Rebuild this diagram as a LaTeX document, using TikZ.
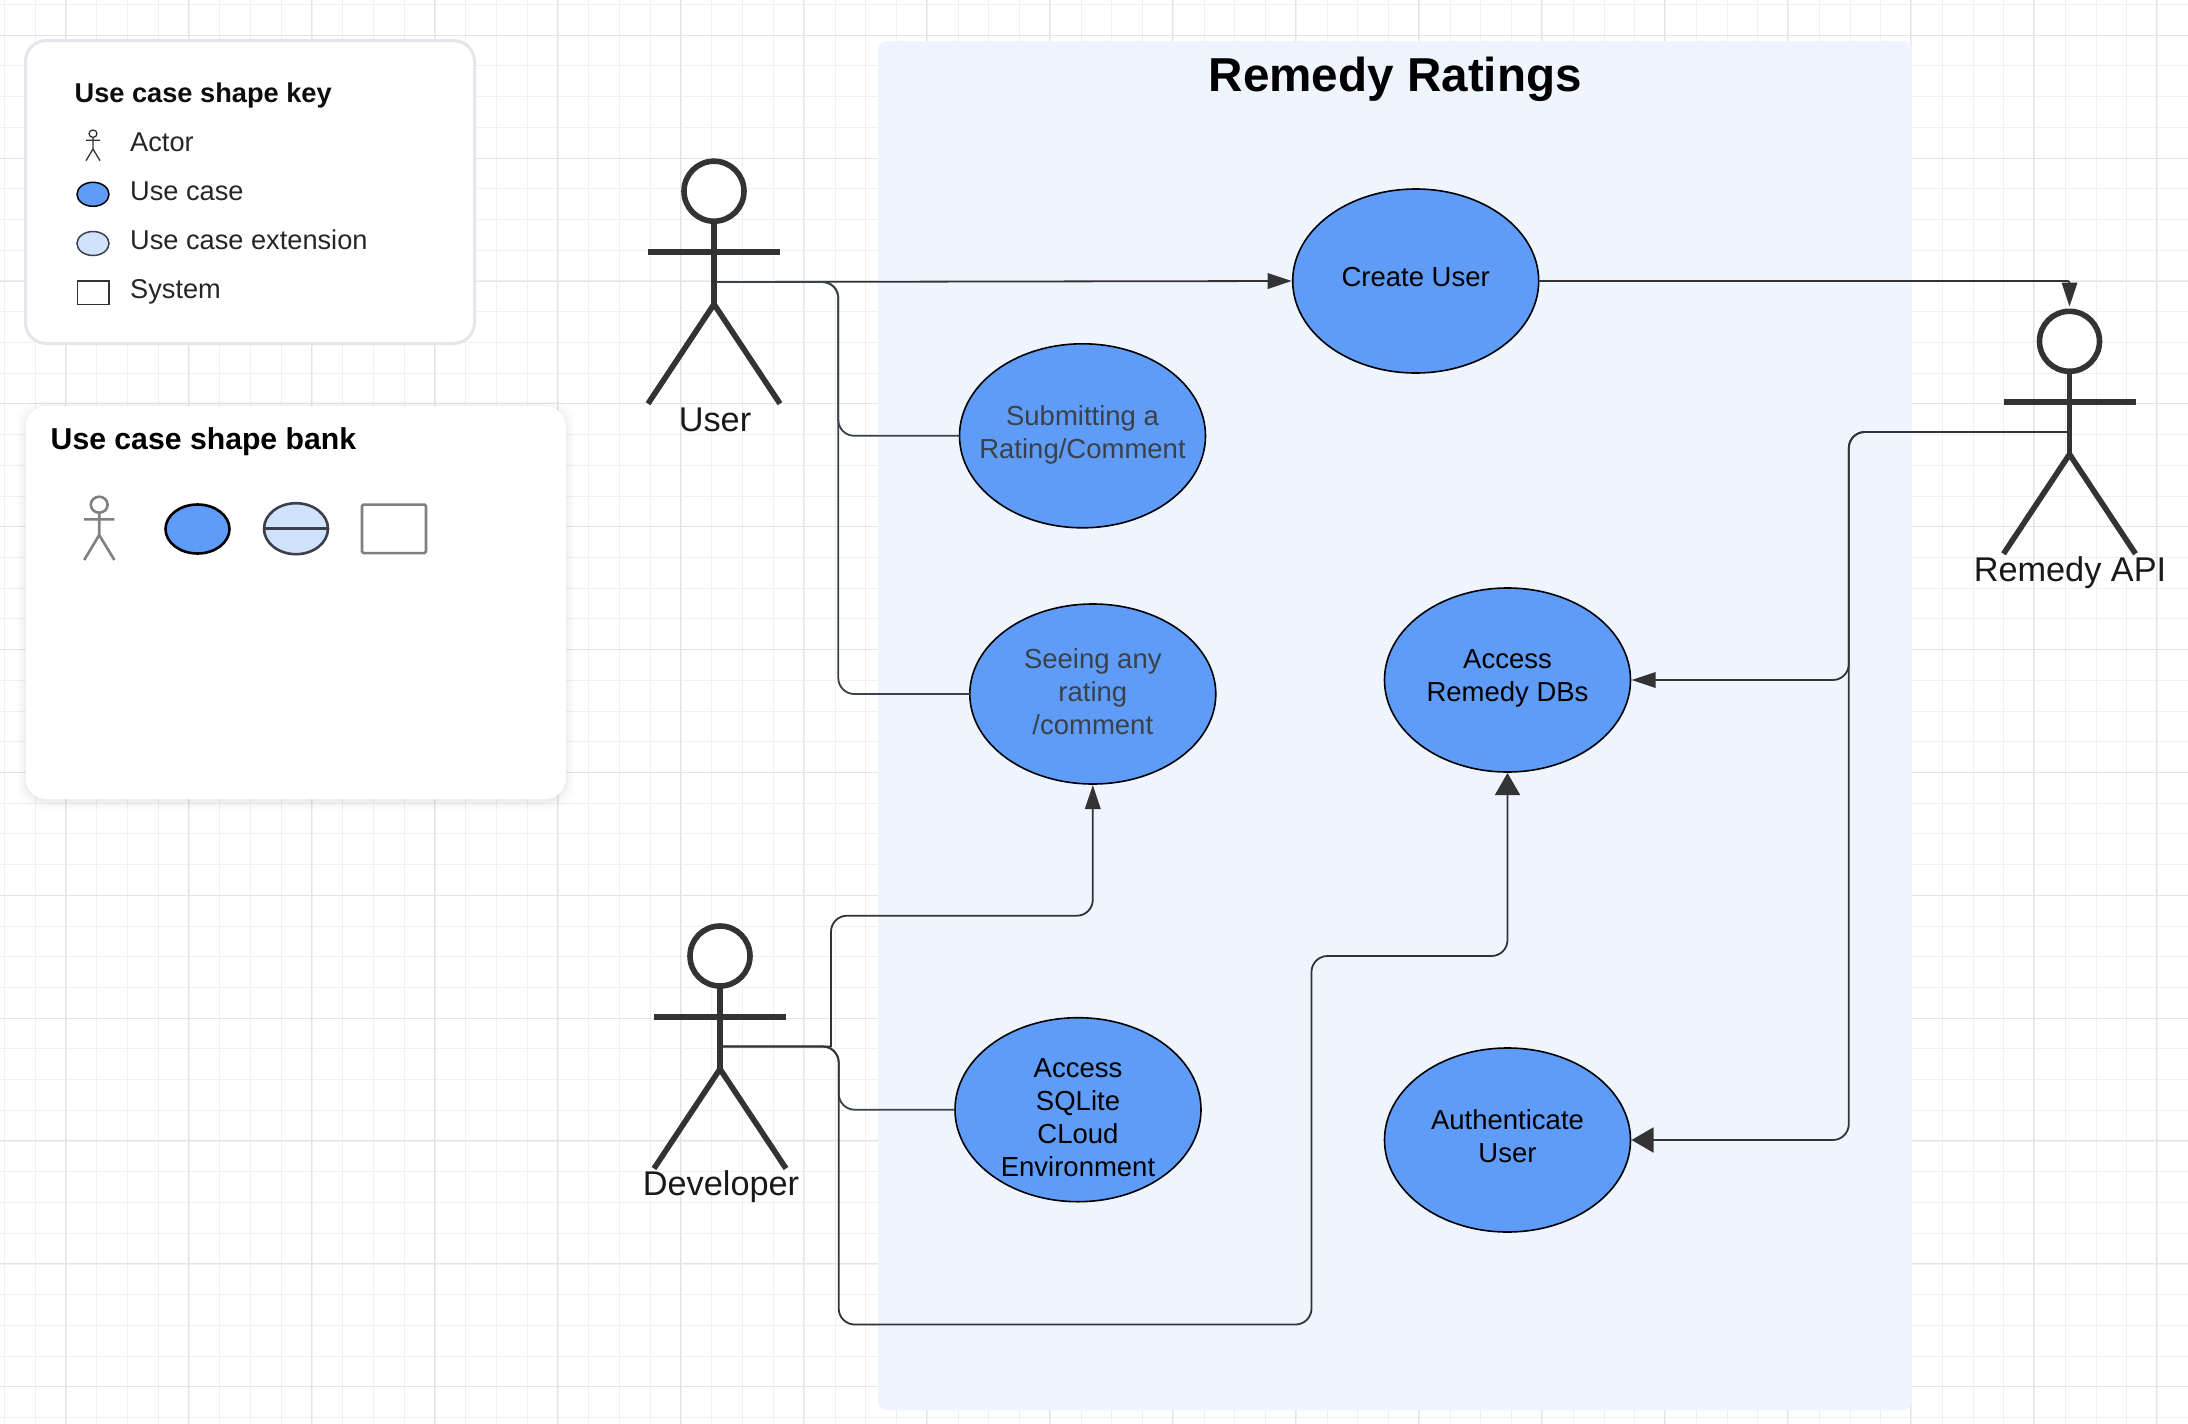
\documentclass[tikz,border=0pt]{standalone}
\usepackage{fontspec}
\setmainfont{Liberation Sans}
\usetikzlibrary{arrows.meta,shapes.geometric}
\definecolor{ucblue}{HTML}{5E9CF7}
\definecolor{ucext}{HTML}{D1E3FC}
\definecolor{sysbg}{HTML}{EEF5FF}
\definecolor{ink}{HTML}{333333}
\definecolor{slate}{HTML}{3A414A}
\definecolor{gridminor}{HTML}{F0F0F0}
\definecolor{gridmajor}{HTML}{E4E4E4}
\definecolor{panelborder}{HTML}{E3E6EB}
\newcommand{\fs}[1]{\fontsize{#1}{#1}\selectfont}
% text block of zero size, so that the ellipse keeps its own size; #1 = upward shift
\newcommand{\uctext}[2]{\raisebox{#1}[0pt][0pt]{\makebox[0pt]{\fontsize{27.5pt}{33pt}\selectfont\begin{tabular}[c]{@{}c@{}}#2\end{tabular}}}}
\tikzset{
  ucnode/.style={ellipse,draw=black,line width=1.6pt,fill=ucblue,inner sep=0pt,outer sep=0pt,minimum width=246pt,minimum height=184pt},
  keyicon/.style={inner sep=0pt,outer sep=0pt,line width=1.5pt},
  conn/.style={draw=slate,line width=1.8pt,rounded corners=16pt},
  tip/.style={-{Triangle[length=24pt,width=15.5pt]},draw=slate,color=ink,shorten >=1pt},
  bigtip/.style={-{Triangle[length=22pt,width=25pt]},draw=slate,color=ink,shorten >=1pt},
  keytext/.style={anchor=base west,inner sep=0pt,text=black!85,font=\fs{27.2pt}},
  actlabel/.style={anchor=base,inner sep=0pt,text=black!90,font=\fs{34.3pt}},
  bigactor/.pic={
    \draw[ink,line width=5.6pt,fill=white] (0,0) ellipse [x radius=30pt,y radius=30pt];
    \draw[ink,line width=5.6pt] (0,30) -- (0,113);
    \draw[ink,line width=6.2pt] (-66,60.7) -- (66,60.7);
    \draw[ink,line width=5.6pt,miter limit=3] (-66,212.5) -- (0,113) -- (66,212.5);
  },
  panel/.style={anchor=north west,inner sep=0pt,outer sep=0pt,rounded corners=21pt,fill=white}
}
\begin{document}
\begin{tikzpicture}[x=1pt,y=-1pt]
\useasboundingbox (0,0) rectangle (2188,1424);
\fill[white] (0,0) rectangle (2188,1424);
% grid, lines on whole pixels so that all look alike
\foreach \i in {0,...,71}{
  \pgfmathsetmacro{\gx}{floor(4.5+30.76*\i)+0.5}
  \draw[gridminor,line width=1.1pt] (\gx,0) -- (\gx,1424);
}
\foreach \i in {0,...,46}{
  \pgfmathsetmacro{\gy}{floor(1424-(4.5+30.72*\i))+0.5}
  \draw[gridminor,line width=1.1pt] (0,1424-\gy) -- (2188,1424-\gy);
}
\foreach \i in {0,...,17}{
  \pgfmathsetmacro{\gx}{floor(65+123.05*\i)+0.5}
  \draw[gridmajor,line width=1.1pt] (\gx,0) -- (\gx,1424);
}
\foreach \i in {0,...,11}{
  \pgfmathsetmacro{\gy}{floor(1424-(35.3+122.85*\i))+0.5}
  \draw[gridmajor,line width=1.1pt] (0,1424-\gy) -- (2188,1424-\gy);
}
% system
\node[anchor=north west,inner sep=0pt,outer sep=0pt,rounded corners=9pt,fill=sysbg,minimum width=1034pt,minimum height=1369pt] (system) at (878,41) {};
\node[anchor=base,inner sep=0pt,font=\bfseries\fs{47.6pt},text=black] (systitle) at (1395.3,91) {Remedy Ratings};
% key panel
\node[panel,draw=panelborder,line width=3pt,minimum width=449pt,minimum height=303pt] (keypanel) at (25.5,40.5) {};
\node[anchor=base west,inner sep=0pt,font=\bfseries\fs{27.2pt},text=black!95] (keytitle) at (74.5,102.3) {Use case shape key};
\draw[ink,line width=1.3pt,fill=white] (93,133.7) ellipse [x radius=4pt,y radius=3.7pt];
\draw[ink,line width=1.3pt] (93,137.4) -- (93,149) (86,140.3) -- (100,140.3) (86,160.7) -- (93,149) -- (100,160.7);
\node[keytext] (kactor) at (130,151.3) {Actor};
\node[keyicon,ellipse,draw=black,fill=ucblue,minimum width=32pt,minimum height=24pt] (kuc) at (93,194.3) {};
\node[keytext] (kuctext) at (130,200.3) {Use case};
\node[keyicon,ellipse,draw=slate,fill=ucext,minimum width=32pt,minimum height=24pt] (kext) at (93,243.5) {};
\node[keytext] (kexttext) at (130,249.3) {Use case extension};
\node[keyicon,rectangle,draw=ink,fill=white,minimum width=31.5pt,minimum height=23.5pt] (ksys) at (93.2,292.5) {};
\node[keytext] (ksystext) at (130,298.7) {System};
% bank panel
\foreach \g/\o in {9/.008,7/.01,5/.012,3/.016,1.5/.02}{
  \fill[black,opacity=\o,rounded corners=24pt] (25.6-\g,406-\g+2) rectangle (566+\g,799+\g+2);
}
\node[panel,minimum width=540.4pt,minimum height=393pt] (bankpanel) at (25.6,406) {};
\node[anchor=base west,inner sep=0pt,font=\bfseries\fs{30.2pt},text=black] (banktitle) at (50.5,449) {Use case shape bank};
\draw[black!50,line width=2.6pt,fill=white] (99.2,504.7) ellipse [x radius=8.4pt,y radius=8pt];
\draw[black!50,line width=2.6pt] (99.2,512.7) -- (99.2,535) (84,519.3) -- (114.4,519.3) (84.2,560) -- (99.2,535) -- (114.4,560);
\node[keyicon,ellipse,draw=black,line width=2.6pt,fill=ucblue,minimum width=64pt,minimum height=49pt] (buc) at (197.5,529) {};
\node[keyicon,ellipse,draw=slate,line width=2.6pt,fill=ucext,minimum width=64pt,minimum height=51pt] (bext) at (296,528.7) {};
\draw[slate,line width=2.6pt] (bext.west) -- (bext.east);
\node[keyicon,rectangle,draw=black!50,line width=2.6pt,fill=white,rounded corners=1.5pt,minimum width=64pt,minimum height=48.5pt] (bsys) at (394,528.8) {};
% use cases
\node[ucnode] (create) at (1415.7,281) {\uctext{-5pt}{Create User}};
\node[ucnode] (submit) at (1082.5,435.8) {\color{slate}\uctext{-5.5pt}{Submitting a\\Rating/Comment}};
\node[ucnode,minimum height=180pt] (seeing) at (1092.8,694) {\color{slate}\uctext{-6.7pt}{Seeing any\\rating\\/comment}};
\node[ucnode] (dbs) at (1507.5,680) {\uctext{-5pt}{Access\\Remedy DBs}};
\node[ucnode] (sqlite) at (1078,1109.7) {\uctext{-16.6pt}{Access\\SQLite\\CLoud\\Environment}};
\node[ucnode] (auth) at (1507.5,1140) {\uctext{-5.7pt}{Authenticate\\User}};
% actors
\pic at (714,191.2) {bigactor};
\pic at (2069.5,341.3) {bigactor};
\pic at (720,956) {bigactor};
\node[actlabel] (userlabel) at (715,431) {User};
\node[actlabel] (apilabel) at (2070,581.5) {Remedy API};
\node[actlabel] (devlabel) at (721,1195.5) {Developer};
\coordinate (user) at (716,282);
\coordinate (apibody) at (2067,432);
\coordinate (apihead) at (2069.5,307.5);
\coordinate (dev) at (722.7,1046.5);
\coordinate (userbus) at (838.3,282);
\coordinate (devbus) at (838.7,1046.5);
\coordinate (devup) at (831,1046.5);
\coordinate (apibus) at (1848.8,432);
\coordinate (devlow) at (838.7,1324.5);
\coordinate (devmid) at (1311.5,1324.5);
% connectors
\draw[conn,tip] (user) -- (create.west);
\draw[conn] (user) -| (userbus |- submit.west) -- (submit.west);
\draw[conn] (user) -| (userbus |- seeing.west) -- (seeing.west);
\draw[conn,tip,rounded corners=2pt] (create.east) -| (apihead);
\draw[conn,tip] (apibody) -| (apibus |- dbs.east) -- (dbs.east);
\draw[conn,bigtip] (apibody) -| (apibus |- auth.east) -- (auth.east);
\draw[conn] (dev) -| (devbus |- sqlite.west) -- (sqlite.west);
\draw[conn,bigtip] (dev) -- (devbus) -- (devlow) -- (devmid) -- (devmid |- 0,956) -| (dbs.south);
\draw[conn,tip] (dev) [sharp corners] -- (devup) [rounded corners=16pt] -- (devup |- 0,915.7) -| (seeing.south);
\end{tikzpicture}
\end{document}
